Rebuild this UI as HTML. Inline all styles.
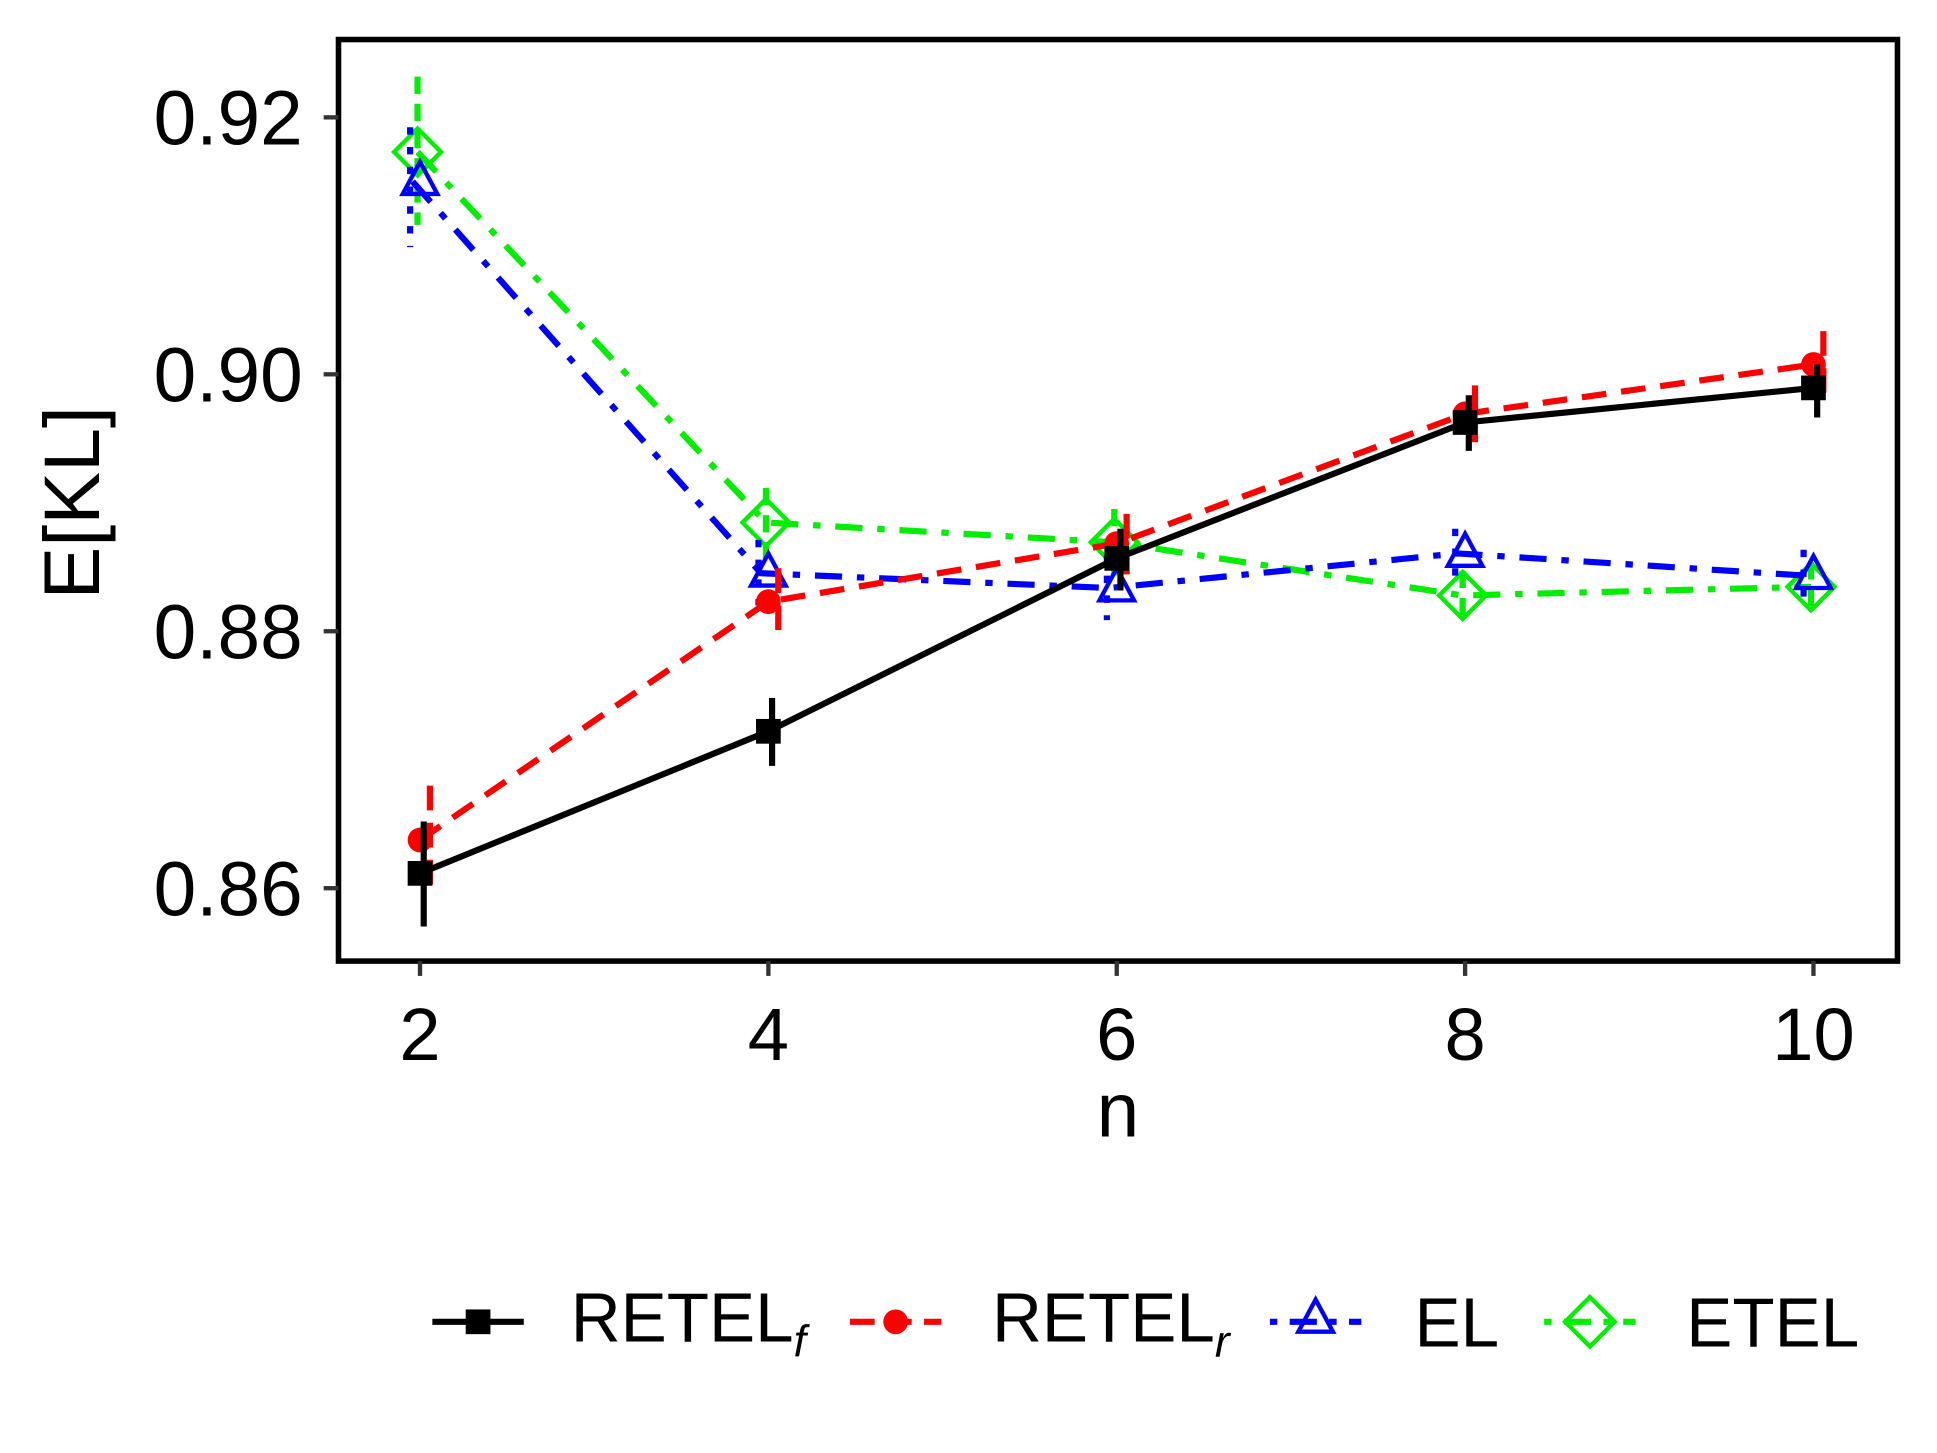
<!DOCTYPE html>
<html><head><meta charset="utf-8"><style>
html,body{margin:0;padding:0;background:#fff;}
svg{display:block;}
text{font-family:"Liberation Sans",sans-serif;}
</style></head><body>
<svg width="1937" height="1453" viewBox="0 0 1568 1176.2" xmlns="http://www.w3.org/2000/svg">
<rect x="0" y="0" width="1568" height="1176.2" fill="#fff"/>
<rect x="274" y="32" width="1262" height="746" fill="none" stroke="#000" stroke-width="4.5"/>
<g stroke="#333" stroke-width="3.5">
<line x1="262" y1="95" x2="274" y2="95"/><line x1="262" y1="303" x2="274" y2="303"/>
<line x1="262" y1="511" x2="274" y2="511"/><line x1="262" y1="719" x2="274" y2="719"/>
<line x1="340" y1="778" x2="340" y2="790"/><line x1="622" y1="778" x2="622" y2="790"/>
<line x1="904" y1="778" x2="904" y2="790"/><line x1="1186" y1="778" x2="1186" y2="790"/>
<line x1="1468" y1="778" x2="1468" y2="790"/>
</g>
<g font-size="62" fill="#000" text-anchor="end">
<text x="245" y="117">0.92</text><text x="245" y="325">0.90</text>
<text x="245" y="533">0.88</text><text x="245" y="741">0.86</text>
</g>
<g font-size="60" fill="#000" text-anchor="middle">
<text x="340" y="858">2</text><text x="622" y="858">4</text><text x="904" y="858">6</text>
<text x="1186" y="858">8</text><text x="1468" y="858">10</text>
<text x="905" y="920" font-size="62">n</text>
</g>
<text transform="translate(80,407) rotate(-90)" font-size="64" text-anchor="middle" fill="#000">E[KL]</text>

<!-- ETEL green -->
<g stroke="#00ee00" stroke-width="5" fill="none">
<polyline points="338,123 620,423 902,439 1184,482 1466,475" stroke-dasharray="22,12,6,12"/>
<g stroke-dasharray="14,8">
<line x1="338" y1="62" x2="338" y2="182"/><line x1="620" y1="395" x2="620" y2="452"/>
<line x1="902" y1="412" x2="902" y2="466"/><line x1="1184" y1="462" x2="1184" y2="505"/>
<line x1="1466" y1="455" x2="1466" y2="495"/></g>
<g stroke-width="3.5">
<polygon points="338,104 357,123 338,142 319,123"/><polygon points="620,404 639,423 620,442 601,423"/>
<polygon points="902,420 921,439 902,458 883,439"/><polygon points="1184,463 1203,482 1184,501 1165,482"/>
<polygon points="1466,456 1485,475 1466,494 1447,475"/></g>
</g>
<!-- EL blue -->
<g stroke="#0000ff" stroke-width="5" fill="none">
<polyline points="334,147 616,464 898,476 1180,448 1462,466" stroke-dasharray="22,12,6,12"/>
<g stroke-dasharray="6,10">
<line x1="332" y1="103" x2="332" y2="200"/><line x1="614" y1="437" x2="614" y2="490"/>
<line x1="896" y1="450" x2="896" y2="502"/><line x1="1178" y1="428" x2="1178" y2="470"/>
<line x1="1460" y1="445" x2="1460" y2="487"/></g>
<g stroke-width="3.5">
<polygon points="340,131 354,157 326,157"/><polygon points="622,448 636,474 608,474"/>
<polygon points="904,460 918,486 890,486"/><polygon points="1186,432 1200,458 1172,458"/>
<polygon points="1468,450 1482,476 1454,476"/></g>
</g>
<!-- RETEL_r red -->
<g stroke="#ff0000" stroke-width="5" fill="none">
<polyline points="340,680 622,487 904,440 1186,335 1468,295" stroke-dasharray="20,12"/>
<g stroke-dasharray="20,10">
<line x1="348" y1="636" x2="348" y2="722"/><line x1="630" y1="460" x2="630" y2="515"/>
<line x1="912" y1="416" x2="912" y2="465"/><line x1="1194" y1="312" x2="1194" y2="358"/>
<line x1="1476" y1="268" x2="1476" y2="318"/></g>
</g>
<g fill="#ff0000">
<circle cx="340" cy="680" r="10"/><circle cx="622" cy="487" r="10"/><circle cx="904" cy="440" r="10"/>
<circle cx="1186" cy="335" r="10"/><circle cx="1468" cy="295" r="10"/></g>
<!-- RETEL_f black -->
<g stroke="#000" stroke-width="5" fill="none">
<polyline points="340,707 622,592 904,452 1186,342 1468,314"/>
<line x1="343" y1="665" x2="343" y2="750"/><line x1="625" y1="565" x2="625" y2="620"/>
<line x1="907" y1="428" x2="907" y2="478"/><line x1="1189" y1="320" x2="1189" y2="365"/>
<line x1="1471" y1="295" x2="1471" y2="338"/>
</g>
<g fill="#000">
<rect x="330" y="697" width="20" height="20"/><rect x="612" y="582" width="20" height="20"/>
<rect x="894" y="442" width="20" height="20"/><rect x="1176" y="332" width="20" height="20"/>
<rect x="1458" y="304" width="20" height="20"/></g>

<!-- legend -->
<g stroke-width="5">
<line x1="350" y1="1070" x2="424" y2="1070" stroke="#000"/><rect x="377" y="1060" width="20" height="20" fill="#000"/>
<line x1="688" y1="1070" x2="762" y2="1070" stroke="#ff0000" stroke-dasharray="20,10"/><circle cx="725" cy="1070" r="10" fill="#ff0000"/>
<line x1="1028" y1="1070" x2="1102" y2="1070" stroke="#0000ff" stroke-dasharray="6,10,22,10"/>
<polygon points="1065,1052 1079,1078 1051,1078" fill="none" stroke="#0000ff" stroke-width="3.5"/>
<line x1="1250" y1="1070" x2="1324" y2="1070" stroke="#00ee00" stroke-dasharray="6,10,22,10"/>
<polygon points="1287,1050 1307,1070 1287,1090 1267,1070" fill="none" stroke="#00ee00" stroke-width="3.5"/>
</g>
<g font-size="56" fill="#000">
<text x="462" y="1086">RETEL<tspan font-size="36" font-style="italic" dy="12">f</tspan></text>
<text x="803" y="1086">RETEL<tspan font-size="36" font-style="italic" dy="12">r</tspan></text>
<text x="1145" y="1090">EL</text>
<text x="1365" y="1090">ETEL</text>
</g>
</svg>
</body></html>
